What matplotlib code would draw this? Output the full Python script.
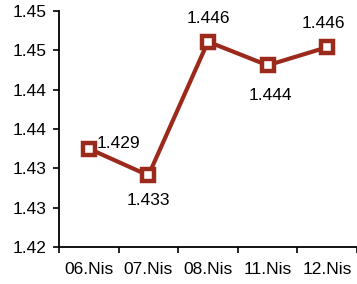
import matplotlib
matplotlib.use("Agg")
import matplotlib.pyplot as plt
import numpy as np

plt.rcParams['font.family'] = ['Liberation Sans', 'DejaVu Sans']
plt.rcParams['font.size'] = 12.5

dates = ["06.Nis", "07.Nis", "08.Nis", "11.Nis", "12.Nis"]
values = [1.4325, 1.4291, 1.4461, 1.4431, 1.4454]
labels = ["1.429", "1.433", "1.446", "1.444", "1.446"]
yticks = [1.42, 1.425, 1.43, 1.435, 1.44, 1.445, 1.45]
ytick_labels = ["1.42", "1.43", "1.43", "1.44", "1.44", "1.45", "1.45"]

color = "#9b2a1d"

fig = plt.figure(figsize=(3.57, 2.84), dpi=100)
ax = fig.add_axes([59/357, 1-247/284, 1-59/357, (247-11)/284])

x = np.arange(len(dates))
ax.plot(x, values, color=color, lw=3.0, marker='s', ms=9,
        mfc='white', mec=color, mew=3.2, zorder=3)

# label offsets (points): above/below as in the reference
offsets = [(21, 4), (0, -18), (0, 17), (2, -22), (-3, 17)]
for xi, v, lab, off in zip(x, values, labels, offsets):
    ax.annotate(lab, (xi, v), xytext=off, textcoords='offset points',
                ha='center', va='center', fontsize=12.5, annotation_clip=False)

ax.set_ylim(1.42, 1.45)
ax.set_yticks(yticks)
ax.set_yticklabels(ytick_labels)
ax.set_xlim(-0.5, len(dates) - 0.5)
ax.set_xticks(np.arange(-0.5, len(dates)), minor=False)
ax.set_xticklabels([])
ax.set_xticks(x, minor=True)
ax.set_xticklabels(dates, minor=True)
ax.tick_params(axis='x', which='minor', length=0, pad=11)
ax.tick_params(axis='x', which='major', length=4, width=1.2, direction='out')
ax.tick_params(axis='y', length=4, width=1.2, direction='out', pad=5)

for s in ['top', 'right']:
    ax.spines[s].set_visible(False)
for s in ['left', 'bottom']:
    ax.spines[s].set_linewidth(1.3)

fig.savefig("out.png", dpi=100)
